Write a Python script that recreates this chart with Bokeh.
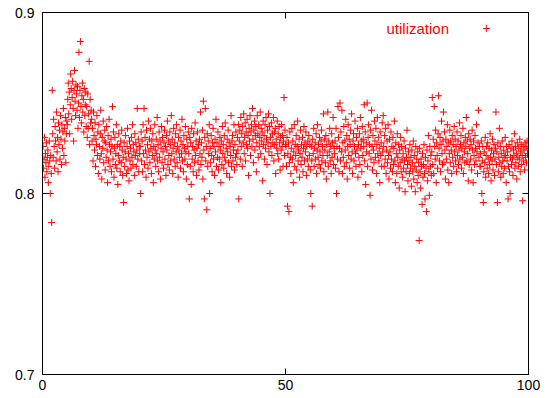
import numpy as np
from bokeh.plotting import figure
from bokeh.models import Range1d, FixedTicker, LinearAxis, Label, ColumnDataSource, CustomLabelingPolicy
from bokeh.embed import file_html
from bokeh.resources import INLINE

# utilization values (x 1/1000), one list per 10-unit span of the x axis
seg_00_10 = [826, 814, 819, 831, 809, 822, 817, 828, 812, 820, 824, 806, 815, 829, 818, 800, 821, 811, 784, 857,
             833, 820, 841, 826, 814, 837, 829, 818, 845, 823, 831, 812, 839, 827, 835, 819, 843, 830, 816, 838,
             825, 834, 847, 821, 836, 829, 842, 817, 833, 840,
             838, 852, 861, 844, 856, 833, 849, 866, 858, 841, 853, 862, 847, 829, 857, 868, 851, 843, 860, 855,
             846, 859, 836, 850, 878, 842, 857, 884, 848, 839, 854, 861, 845, 852, 834, 858, 843, 849, 856, 837,
             848, 831, 855, 836, 844, 873, 827, 852, 839, 846]
seg_10_20 = [841, 829, 836, 818, 845, 832, 824, 839, 815, 830, 827, 843, 821, 834, 811, 838, 826, 819, 833, 846,
             822, 808, 831, 825, 840, 817, 829, 835, 813, 828, 820, 837, 824, 806, 832, 818, 841, 827, 815, 823,
             830, 812, 826, 848, 819, 834, 809, 825, 831, 816, 822, 838, 814, 827, 805, 821, 833, 818, 826, 812,
             829, 817, 835, 824, 810, 820, 795, 828, 815, 823, 832, 819, 811, 826, 836, 813, 822, 807, 829, 818,
             825, 814, 831, 820, 838, 816, 827, 823, 810, 833, 821, 828, 815, 824, 847, 819, 830, 812, 826, 822]
seg_20_30 = [826, 800, 834, 818, 829, 812, 838, 822, 847, 816, 831, 824, 809, 835, 820, 827, 814, 840, 823, 830,
             817, 836, 825, 811, 829, 821, 833, 806, 826, 819, 838, 824, 815, 830, 822, 842, 818, 827, 812, 834,
             820, 829, 808, 825, 837, 817, 831, 823, 814, 828, 835, 819, 826, 810, 832, 824, 840, 816, 829, 821,
             813, 834, 827, 818, 843, 822, 830, 811, 825, 836, 819, 828, 815, 833, 823, 838, 817, 826, 809, 831,
             824, 820, 835, 814, 829, 822, 841, 818, 827, 812, 832, 825, 819, 837, 823, 808, 830, 816, 826, 834]
seg_30_40 = [822, 797, 831, 815, 828, 805, 836, 819, 826, 812, 833, 824, 817, 839, 821, 829, 810, 825, 834, 818,
             827, 813, 830, 822, 845, 816, 828, 820, 835, 808, 851, 824, 797, 831, 847, 818, 826, 791, 833, 815,
             829, 822, 838, 800, 825, 817, 832, 821, 812, 828, 836, 819, 826, 810, 830, 823, 841, 815, 828, 820,
             834, 813, 826, 819, 831, 824, 806, 829, 816, 837, 822, 827, 814, 832, 820, 839, 818, 825, 811, 830,
             823, 835, 817, 828, 809, 826, 821, 843, 815, 829, 832, 818, 824, 838, 813, 827, 820, 834, 822, 816]
seg_40_50 = [831, 824, 838, 797, 829, 835, 819, 842, 826, 833, 815, 837, 828, 844, 822, 831, 839, 818, 834, 827,
             841, 825, 832, 810, 836, 829, 843, 821, 834, 838, 826, 847, 830, 817, 835, 840, 824, 832, 837, 812,
             828, 843, 833, 820, 838, 826, 831, 845, 822, 836, 829, 834, 807, 840, 827, 832, 819, 838, 825, 842,
             830, 816, 835, 828, 844, 823, 837, 800, 831, 826, 839, 821, 833, 828, 842, 818, 834, 827, 836, 811,
             830, 825, 840, 822, 833, 819, 837, 828, 813, 831, 824, 838, 826, 832, 815, 829, 853, 821, 835, 827]
seg_50_60 = [826, 815, 831, 793, 822, 828, 790, 817, 834, 820, 811, 825, 836, 819, 829, 806, 823, 838, 815, 827,
             821, 832, 813, 826, 840, 818, 824, 830, 809, 822, 835, 816, 827, 820, 831, 812, 825, 837, 818, 828,
             823, 834, 810, 826, 819, 829, 815, 832, 821, 827, 813, 800, 826, 818, 793, 830, 822, 836, 815, 825,
             828, 819, 833, 811, 824, 838, 820, 827, 816, 831, 823, 814, 829, 835, 818, 826, 821, 844, 812, 830,
             824, 817, 832, 808, 827, 821, 845, 815, 829, 823, 836, 818, 826, 811, 833, 820, 828, 842, 816, 825]
seg_60_70 = [822, 829, 814, 836, 800, 826, 819, 848, 831, 812, 825, 850, 818, 834, 823, 846, 811, 828, 820, 837,
             815, 829, 824, 841, 817, 832, 808, 826, 838, 821, 830, 814, 827, 835, 819, 844, 823, 811, 829, 833,
             818, 826, 840, 822, 815, 831, 824, 836, 809, 827, 820, 833, 816, 842, 825, 829, 812, 837, 821, 830,
             826, 849, 818, 834, 805, 828, 823, 850, 815, 831, 838, 822, 827, 799, 835, 819, 846, 826, 813, 832,
             824, 817, 840, 829, 820, 836, 811, 827, 842, 822, 831, 818, 825, 806, 834, 821, 828, 815, 839, 823]
seg_70_80 = [843, 826, 815, 832, 819, 836, 811, 824, 829, 817, 838, 821, 808, 830, 823, 814, 834, 819, 826, 812,
             831, 816, 825, 840, 818, 806, 828, 822, 811, 833, 820, 815, 827, 803, 824, 817, 831, 812, 826, 819,
             809, 822, 814, 829, 818, 801, 825, 812, 820, 835, 816, 807, 823, 818, 811, 827, 814, 820, 804, 824,
             817, 812, 829, 808, 821, 815, 801, 826, 813, 819, 806, 823, 810, 817, 774, 825, 812, 803, 819, 815,
             794, 822, 809, 816, 827, 811, 797, 820, 814, 790, 824, 807, 818, 832, 812, 799, 826, 815, 821, 810]
seg_80_90 = [823, 853, 816, 830, 811, 848, 826, 819, 835, 806, 828, 821, 814, 833, 854, 825, 818, 831, 812, 827,
             840, 822, 816, 829, 845, 817, 834, 824, 808, 830, 819, 826, 838, 813, 828, 806, 822, 835, 817, 829,
             824, 811, 832, 820, 827, 815, 837, 823, 830, 818, 826, 812, 834, 821, 829, 816, 824, 839, 819, 827,
             832, 814, 825, 820, 836, 811, 828, 823, 817, 831, 826, 842, 818, 829, 822, 807, 833, 816, 825, 830,
             819, 827, 813, 835, 824, 806, 829, 821, 816, 832, 825, 818, 838, 823, 811, 828, 846, 820, 826, 815]
seg_90_100 = [822, 815, 829, 800, 818, 826, 795, 812, 823, 817, 831, 809, 821, 826, 814, 828, 819, 811, 825, 816,
              833, 820, 807, 824, 818, 830, 813, 822, 827, 810, 819, 825, 845, 816, 823, 795, 828, 812, 820, 836,
              817, 826, 809, 822, 815, 829, 818, 811, 824, 820, 814, 831, 821, 806, 826, 818, 823, 797, 815, 827,
              812, 800, 820, 825, 816, 829, 819, 810, 824, 821, 833, 814, 826, 817, 822, 808, 828, 820, 815, 825,
              819, 830, 812, 823, 827, 816, 821, 796, 826, 818, 824, 813, 828, 820, 826, 817, 829, 822, 825, 821]

segments = [seg_00_10, seg_10_20, seg_20_30, seg_30_40, seg_40_50,
            seg_50_60, seg_60_70, seg_70_80, seg_80_90, seg_90_100]
segment_starts = [0, 10, 20, 30, 40, 50, 60, 70, 80, 90]
x_ticks = [0, 50, 100]
y_ticks = [0.7, 0.8, 0.9]
series_name = "utilization"

xs, ys = [], []
for start, seg in zip(segment_starts, segments):
    xs.extend(np.linspace(start + 0.1, start + 10, len(seg)))
    ys.extend(np.array(seg) / 1000.0)
src = ColumnDataSource(dict(x=xs, y=ys))

FONT = "Liberation Sans"
RED = "#ff0000"

p = figure(width=547, height=398, output_backend="svg", toolbar_location=None,
           x_range=Range1d(0, 100), y_range=Range1d(0.7, 0.9),
           min_border_left=42, min_border_right=19, min_border_top=12, min_border_bottom=24)
p.background_fill_color = "white"
p.border_fill_color = "white"
p.outline_line_color = "black"
p.outline_line_width = 1
p.xgrid.visible = False
p.ygrid.visible = False

p.scatter("x", "y", source=src, marker="cross", size=7, line_color=RED, line_width=1)

for ax, ticks in ((p.xaxis[0], x_ticks), (p.yaxis[0], y_ticks)):
    ax.ticker = FixedTicker(ticks=ticks)
    ax.major_tick_in = 6
    ax.major_tick_out = 0
    ax.minor_tick_line_color = None
    ax.axis_line_color = "black"
    ax.major_tick_line_color = "black"
    ax.major_label_text_font = FONT
    ax.major_label_text_font_size = "14px"
    ax.major_label_text_color = "black"
p.xaxis[0].major_label_standoff = 5
p.yaxis[0].major_label_standoff = 8

# mirrored tick marks on the top and right edges, without labels
hide_all = CustomLabelingPolicy(code="for (const i of indices) indices.unset(i)")
for ticks, side in ((x_ticks, "above"), (y_ticks, "right")):
    ax = LinearAxis(ticker=FixedTicker(ticks=ticks), major_label_policy=hide_all)
    ax.major_tick_in = 6
    ax.major_tick_out = 0
    ax.minor_tick_line_color = None
    ax.major_label_standoff = 0
    ax.major_label_text_font_size = "1px"
    ax.axis_line_color = "black"
    p.add_layout(ax, side)

# legend entry: text, then sample marker (screen units measured from the frame's lower-left corner)
p.add_layout(Label(x=344, y=346, x_units="screen", y_units="screen", text=series_name,
                   text_color=RED, text_font=FONT, text_font_size="15px", text_baseline="middle"))
p.add_layout(Label(x=444, y=347, x_units="screen", y_units="screen", text="+",
                   text_color=RED, text_font=FONT, text_font_size="14px",
                   text_align="center", text_baseline="middle"))

open("out.html", "w").write(file_html(p, INLINE))
